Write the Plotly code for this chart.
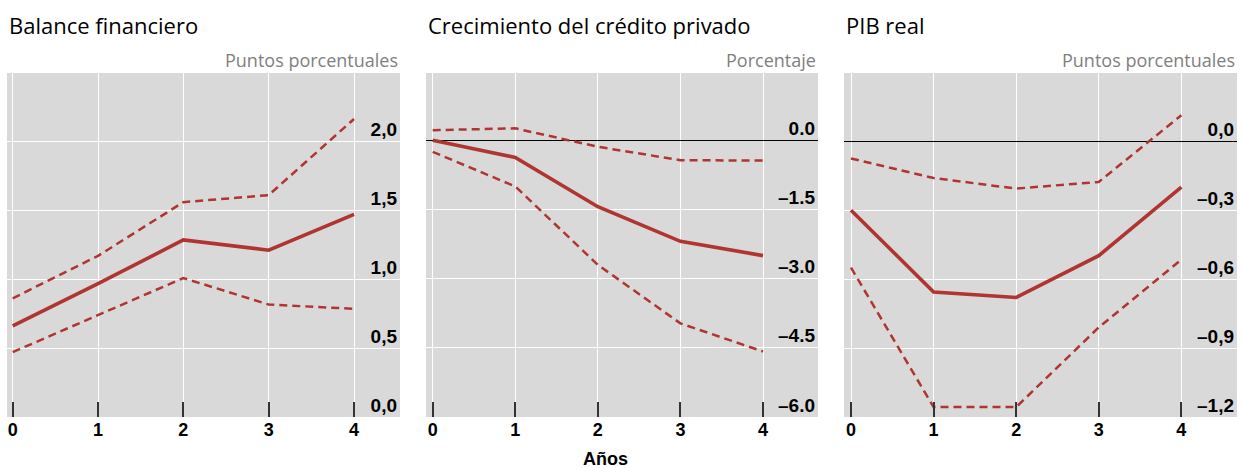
import plotly.graph_objects as go

W, H = 1243, 468

years = [0, 1, 2, 3, 4]

# Panel 1: Balance financiero
bal_central = [0.66, 0.966, 1.283, 1.209, 1.469]
bal_upper = [0.86, 1.168, 1.557, 1.608, 2.16]
bal_lower = [0.47, 0.74, 1.007, 0.815, 0.784]

# Panel 2: Crecimiento del crédito privado
cred_central = [0.0, -0.37, -1.44, -2.19, -2.50]
cred_upper = [0.22, 0.26, -0.14, -0.43, -0.44]
cred_lower = [-0.25, -1.0, -2.70, -3.97, -4.58]

# Panel 3: PIB real
pib_central = [-0.30, -0.656, -0.68, -0.498, -0.20]
pib_upper = [-0.075, -0.16, -0.206, -0.177, 0.113]
pib_lower = [-0.55, -1.157, -1.157, -0.81, -0.515]

titles = ["Balance financiero", "Crecimiento del crédito privado", "PIB real"]
units = ["Puntos porcentuales", "Porcentaje", "Puntos porcentuales"]

y1_vals = [0.0, 0.5, 1.0, 1.5, 2.0]
y1_text = ["0,0", "0,5", "1,0", "1,5", "2,0"]
y2_vals = [-6.0, -4.5, -3.0, -1.5, 0.0]
y2_text = ["–6.0", "–4.5", "–3.0", "–1.5", "0.0"]
y3_vals = [-1.2, -0.9, -0.6, -0.3, 0.0]
y3_text = ["–1,2", "–0,9", "–0,6", "–0,3", "0,0"]
x_text = ["0", "1", "2", "3", "4"]

RED = "#b03532"
BG = "#d9d9d9"

panels = [
    dict(c=bal_central, u=bal_upper, l=bal_lower, yv=y1_vals, yt=y1_text,
         yr=[0, 2.493], xr=[-0.067, 4.539], px=(7, 400), zl=False),
    dict(c=cred_central, u=cred_upper, l=cred_lower, yv=y2_vals, yt=y2_text,
         yr=[-6.0, 1.46], xr=[-0.081, 4.666], px=(426, 818), zl=True),
    dict(c=pib_central, u=pib_upper, l=pib_lower, yv=y3_vals, yt=y3_text,
         yr=[-1.2, 0.297], xr=[-0.085, 4.674], px=(844, 1237), zl=True),
]

fig = go.Figure()
ydom = [1 - 417 / H, 1 - 73 / H]
annotations = []
for i, p in enumerate(panels):
    n = "" if i == 0 else str(i + 1)
    xa, ya = "x" + n, "y" + n
    for series, dash, width in [(p["u"], "8px,5px", 2.5), (p["l"], "8px,5px", 2.5), (p["c"], "solid", 3.6)]:
        fig.add_trace(go.Scatter(x=years, y=series, mode="lines", xaxis=xa, yaxis=ya,
                                 line=dict(color=RED, width=width, dash=dash),
                                 showlegend=False, hoverinfo="skip"))
    dom = [p["px"][0] / W, p["px"][1] / W]
    fig.layout["xaxis" + n] = dict(
        domain=dom, range=p["xr"], anchor=ya, tickvals=years, ticktext=x_text,
        showgrid=True, gridcolor="white", gridwidth=1.3, zeroline=False,
        ticks="inside", ticklen=15, tickwidth=1.5, tickcolor="#333333",
        tickfont=dict(family="Liberation Sans, Arial", size=18, color="black", weight="bold"),
        showline=False, fixedrange=True,
    )
    fig.layout["yaxis" + n] = dict(
        domain=ydom, range=p["yr"], anchor=xa, tickvals=p["yv"], ticktext=p["yt"],
        side="right", ticklabelposition="inside", ticklabelshift=-12, ticks="",
        showgrid=True, gridcolor="white", gridwidth=1.3,
        zeroline=p["zl"], zerolinecolor="black", zerolinewidth=1.2,
        tickfont=dict(family="Liberation Sans, Arial", size=19, color="black", weight="bold"),
        showline=False, fixedrange=True,
    )
    # small left ticks (overlay axis, no labels)
    fig.layout["yaxis" + str(i + 4)] = dict(
        overlaying=ya, anchor=xa, side="left", range=p["yr"], tickvals=p["yv"],
        showticklabels=False, ticks="outside", ticklen=2, tickwidth=1, tickcolor="#555555",
        showgrid=False, zeroline=False, showline=False, fixedrange=True,
    )
    # background
    fig.add_shape(type="rect", xref="paper", yref="paper", x0=dom[0], x1=dom[1],
                  y0=ydom[0], y1=ydom[1], fillcolor=BG, line=dict(width=0), layer="below")
    annotations.append(dict(text=titles[i], xref="paper", yref="paper",
                            x=p["px"][0] / W, y=1 - 25 / H, xanchor="left", yanchor="middle",
                            showarrow=False,
                            font=dict(family="Open Sans, Noto Sans", size=22, color="black")))
    annotations.append(dict(text=units[i], xref="paper", yref="paper",
                            x=p["px"][1] / W, y=1 - 60 / H, xanchor="right", yanchor="middle",
                            showarrow=False,
                            font=dict(family="Open Sans, Noto Sans", size=18, color="#808080")))

annotations.append(dict(text="Años", xref="paper", yref="paper", x=605 / W, y=1 - 459 / H,
                        xanchor="center", yanchor="middle", showarrow=False,
                        font=dict(family="Liberation Sans, Arial", size=18, color="black", weight="bold")))

fig.update_layout(width=W, height=H, margin=dict(l=0, r=0, t=0, b=0),
                  paper_bgcolor="white", plot_bgcolor=BG, annotations=annotations)

fig.write_html("out.html", config={"displayModeBar": False},
               post_script="document.body.style.margin='0';document.body.style.overflow='hidden';")
